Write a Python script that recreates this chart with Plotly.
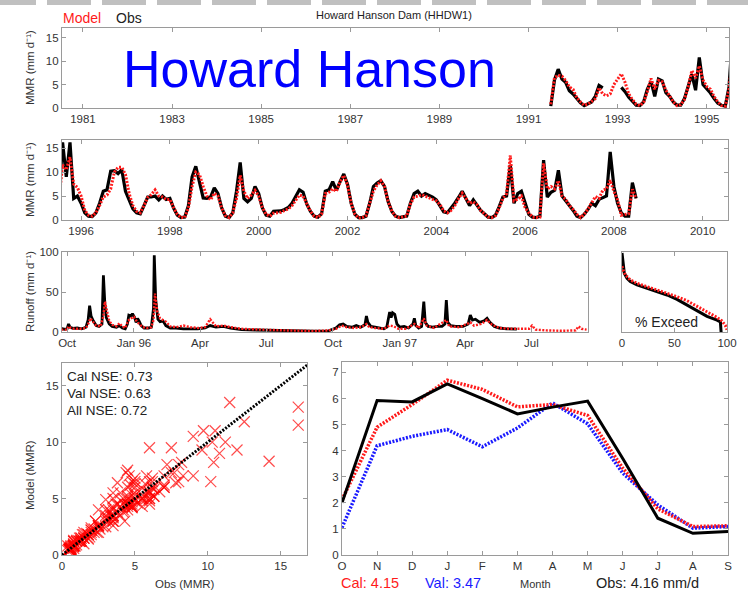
import numpy as np
import pandas as pd
import plotly.graph_objects as go

# ---------------- DATA ----------------
series_start_year = 1991.5
obs_mmr = [0.4, 6.0, 8.3, 6.2, 5.5, 3.7, 3.0, 2.0, 1.1, 0.5, 0.9, 1.3, 2.5, 4.8, 4.3, None, None, None, None, 4.4,
           3.5, 2.3, 1.4, 0.6, 0.5, 1.3, 4.0, 5.7, 2.5, 6.2, 5.8, 3.3, 2.5, 1.3, 0.6, 0.6, 2.0, 4.5, 7.2, 3.8,
           10.8, 5.0, 4.2, 3.2, 2.0, 1.0, 0.6, 0.4, 4.5,
           16.2, 9.0, 16.2, 4.5, 5.0, 3.5, 1.5, 0.8, 0.7, 1.5, 3.5, 6.0, 6.3, 10.2, 10.3, 9.7, 10.5, 6.0, 4.0, 2.3,
           1.5, 1.3, 3.0, 4.8, 4.8, 5.0, 4.2, 5.0, 4.3, 4.5, 2.5, 1.0, 0.5, 0.6, 3.0, 9.0, 11.2, 7.5, 4.6, 4.5,
           4.8, 6.7, 5.5, 2.5, 0.8, 0.5, 1.5, 6.0, 12.0, 4.5, 3.8, 4.5, 7.0, 5.5, 2.5, 1.0, 0.8, 1.8, 1.8, 1.9,
           2.2, 2.6, 3.5, 4.8, 6.3, 5.8, 3.3, 1.8, 0.8, 0.6, 1.3, 6.0, 6.3, 8.0, 6.2, 8.0, 9.6, 7.5, 3.5, 1.2,
           0.5, 0.5, 0.8, 3.5, 7.0, 7.7, 8.2, 7.0, 3.8, 1.8, 0.8, 0.5, 0.6, 0.8, 3.5, 5.5, 6.0, 5.0, 5.5, 5.2,
           4.8, 4.2, 3.0, 1.7, 1.5, 2.4, 3.5, 4.7, 6.0, 4.5, 3.0, 4.2, 3.2, 2.0, 1.3, 0.6, 0.5, 1.0, 2.8, 4.8,
           5.0,
           11.5, 3.5, 5.5, 6.0, 3.5, 1.2, 0.6, 0.5, 0.8, 12.5, 4.8, 5.8, 6.2, 10.4, 5.0, 4.0, 3.2, 2.0, 0.8, 0.5,
           1.2, 2.2, 3.5, 3.0, 4.3, 4.7, 5.0, 14.2, 7.0, 3.5, 1.5, 0.8, 0.8, 7.8, 4.5]
model_mmr = [0.8, 6.5, 7.0, 6.8, 5.9, 4.5, 4.0, 2.2, 1.3, 0.6, 0.8, 1.5, 2.0, 4.3, 3.0, 2.6, 3.0, 5.0, 6.3, 7.3,
             5.5, 3.0, 1.8, 0.8, 0.5, 1.2, 3.5, 6.3, 4.0, 5.9, 5.6, 3.8, 2.6, 1.3, 0.5, 0.7, 1.8, 4.5, 8.0, 6.4,
             9.0, 6.0, 4.6, 4.0, 2.4, 1.3, 0.5, 0.4, 4.0,
             11.5, 10.5, 13.1, 7.5, 6.8, 5.0, 2.0, 1.0, 0.8, 1.5, 3.0, 4.8, 5.2, 6.5, 10.0, 11.0, 11.0, 9.5, 5.5, 3.0,
             1.8, 1.5, 3.0, 4.7, 5.3, 6.3, 5.0, 4.8, 4.3, 4.3, 2.6, 1.2, 0.5, 0.5, 2.5, 7.0, 10.0, 9.5, 7.0, 5.0,
             4.2, 5.6, 5.0, 2.5, 0.9, 0.5, 1.5, 4.5, 9.3, 6.0, 4.5, 5.2, 6.2, 5.0, 2.6, 1.2, 0.8, 1.4, 1.5, 1.6,
             2.0, 2.3, 3.0, 4.2, 5.2, 5.0, 3.5, 1.8, 0.8, 0.5, 1.2, 5.5, 5.8, 6.5, 6.0, 8.0, 9.3, 7.3, 3.5, 1.2,
             0.4, 0.5, 0.9, 3.4, 6.0, 7.3, 8.2, 7.0, 3.8, 1.8, 0.8, 0.5, 0.6, 0.8, 3.3, 4.8, 5.0, 5.3, 5.0, 4.6,
             4.3, 4.0, 3.2, 1.9, 1.5, 2.0, 3.0, 4.5, 5.6, 4.5, 3.5, 3.8, 3.2, 2.0, 1.3, 0.6, 0.5, 0.9, 2.5, 4.5,
             5.5,
             13.5, 4.0, 4.3, 5.0, 2.6, 1.5, 0.6, 0.5, 0.6, 11.8, 6.5, 7.0, 6.5, 8.2, 5.0, 4.3, 3.0, 2.2, 1.2, 0.5,
             1.2, 2.3, 3.5, 4.9, 4.5, 6.2, 6.5, 8.3, 6.0, 4.2, 1.0, 1.2, 1.3, 6.4, 4.5]

daily_origin = "1995-10-01"
obs_day = [-8, -4, 0, 2, 4, 8, 14, 20, 26, 29, 31, 33, 36, 40, 44, 48, 50, 52, 54, 58, 62, 68, 72, 76, 80, 83, 85,
           88, 90, 93, 95, 97, 99, 102, 106, 112, 116, 119, 120, 122, 125, 128, 132, 136, 142, 150, 160, 170, 180,
           190, 197, 205, 215, 225, 240, 260, 280, 300, 320, 340, 360, 370, 375, 380, 385, 392, 398, 404, 410, 412,
           414, 418, 424, 430, 436, 440, 444, 446, 448, 451, 454, 458, 464, 470, 476, 478, 480, 484, 488, 491, 493,
           497, 503, 510, 516, 520, 522, 524, 528, 535, 545, 552, 555, 558, 562, 568, 574, 578, 582, 588, 595, 605,
           612, 619]
obs_daily = [4.5, 3.5, 4, 10, 6, 4.5, 5, 4, 6, 15, 33, 20, 14, 8, 7, 10, 71, 35, 18, 10, 7, 6, 8, 5, 4, 10, 21,
             20, 23, 18, 12, 17, 14, 8, 5, 5, 6, 30, 96, 40, 16, 13, 14, 8, 5, 5, 4, 4, 4,
             5, 8, 6, 7, 5, 3, 2.5, 2, 1.5, 1.2, 1.0, 1.5, 5, 9, 10, 7, 6, 8, 6, 9, 20,
             12, 7, 6, 5, 4, 6, 25, 18, 24, 22, 10, 6, 7, 5, 10, 17, 8, 5, 7, 38, 12,
             7, 6, 7, 7, 10, 40, 12, 8, 7, 7, 10, 21, 15, 16, 12, 14, 17, 12, 7, 5, 4,
             4, 3.5]
model_day = [-8, 0, 2, 5, 10, 20, 26, 29, 32, 35, 40, 46, 50, 52, 55, 58, 62, 68, 72, 76, 80, 84, 88, 92, 96, 100,
             104, 110, 116, 119, 121, 124, 128, 132, 136, 142, 150, 160, 170, 180, 190, 197, 200, 205, 215, 225, 240,
             260, 280, 300, 320, 340, 360, 370, 378, 385, 395, 405, 412, 416, 424, 436, 444, 450, 456, 466, 478, 484,
             491, 495, 505, 522, 526, 540, 555, 560, 570, 578, 585, 595, 610, 625, 636, 640, 645, 660, 680, 700, 704,
             708, 715]
model_daily = [3, 3, 7, 5, 4, 4, 5, 10, 17, 14, 8, 7, 20, 38, 25, 14, 9, 7, 11, 7, 5, 14, 17, 19, 13, 10,
               6, 5, 6, 15, 48, 26, 17, 15, 13, 7, 6, 8, 6, 5, 6, 16, 12, 7, 8, 6, 4,
               3, 2.5, 2, 1.5, 1.3, 2, 4, 8, 6, 5, 6, 10, 6, 5, 4, 8, 7, 4, 4, 10, 5,
               17, 8, 5, 15, 7, 6, 12, 8, 10, 15, 9, 5, 4, 3.5, 4, 8, 3, 2, 1.5, 2, 7,
               4, 3]

exc_pct_obs = [0, 1.0, 2.2, 4.8, 7.9, 14.3, 23.8, 33.3, 42.9, 52.4, 61.9, 71.4, 81.0, 90.5, 93.7, 94.8, 100]
exc_obs = [93, 35, 21.8, 15.1, 11.9, 9.35, 7.35, 5.76, 4.53, 3.31, 2.19, 1.45, 0.98, 0.74, 0.65, 0.2, 0.2]
exc_pct_mod = [0, 1.0, 3.2, 7.9, 14.3, 23.8, 33.3, 42.9, 52.4, 61.9, 71.4, 81.0, 90.5, 95.2, 98.4, 100]
exc_mod = [36, 27.7, 19.3, 13.4, 10.5, 8.3, 6.5, 5.1, 4.0, 3.0, 2.04, 1.35, 0.9, 0.70, 0.51, 0.37]

month_labels = ["O", "N", "D", "J", "F", "M", "A", "M", "J", "J", "A", "S"]
clim_obs = [2.0, 5.92, 5.87, 6.56, 6.0, 5.41, 5.67, 5.9, 3.7, 1.41, 0.83, 0.9]
clim_cal = [2.12, 4.9, 5.77, 6.7, 6.35, 5.68, 5.77, 5.35, 3.33, 1.77, 1.09, 1.12]
clim_val = [1.05, 4.19, 4.55, 4.81, 4.15, 4.87, 5.83, 5.03, 3.14, 1.92, 1.03, 1.09]

one_to_one = [0, 17]
nse_text = ["Cal NSE: 0.73", "Val NSE: 0.63", "All NSE: 0.72"]
mean_text = {"cal": "Cal: 4.15", "val": "Val: 3.47", "obs": "Obs: 4.16 mm/d"}

# ---------------- FIGURE ----------------
W, H = 748, 597
FONT = "Liberation Sans, Arial, sans-serif"
RED, BLUE = "#ff1a1a", "#1a1aff"
DOTS = "2px,1.5px"


def xd(a, b):
    return [a / W, b / W]


def yd(top, bottom):
    return [1 - bottom / H, 1 - top / H]


t_month = series_start_year + np.arange(len(obs_mmr)) / 12.0
obs_arr = np.array([np.nan if v is None else v for v in obs_mmr], dtype=float)
mod_arr = np.array(model_mmr, dtype=float)
origin = pd.Timestamp(daily_origin)
obs_dates = origin + pd.to_timedelta(obs_day, unit="D")
mod_dates = origin + pd.to_timedelta(model_day, unit="D")

fig = go.Figure()
obs_line = dict(color="black", width=3.2)
mod_line = dict(color=RED, width=3, dash=DOTS)

for ax in ["", "2"]:
    fig.add_trace(go.Scatter(x=t_month, y=obs_arr, mode="lines", line=obs_line,
                             xaxis="x" + ax, yaxis="y" + ax, connectgaps=False))
    fig.add_trace(go.Scatter(x=t_month, y=mod_arr, mode="lines", line=mod_line,
                             xaxis="x" + ax, yaxis="y" + ax))

fig.add_trace(go.Scatter(x=obs_dates, y=obs_daily, mode="lines", line=dict(color="black", width=2.8),
                         xaxis="x3", yaxis="y3"))
fig.add_trace(go.Scatter(x=mod_dates, y=model_daily, mode="lines", line=dict(color=RED, width=2.4, dash=DOTS),
                         xaxis="x3", yaxis="y3"))

fig.add_trace(go.Scatter(x=exc_pct_obs, y=exc_obs, mode="lines", line=dict(color="black", width=3),
                         xaxis="x4", yaxis="y4"))
fig.add_trace(go.Scatter(x=exc_pct_mod, y=exc_mod, mode="lines", line=dict(color=RED, width=3, dash=DOTS),
                         xaxis="x4", yaxis="y4"))

mask = ~np.isnan(obs_arr)
fig.add_trace(go.Scatter(x=obs_arr[mask], y=mod_arr[mask], mode="markers",
                         marker=dict(symbol="x-thin-open", size=11, color="red", opacity=0.7,
                                     line=dict(width=1.2, color="red")),
                         xaxis="x5", yaxis="y5"))
fig.add_trace(go.Scatter(x=one_to_one, y=one_to_one, mode="lines", line=dict(color="black", width=3, dash=DOTS),
                         xaxis="x5", yaxis="y5"))

mx = np.arange(len(month_labels))
fig.add_trace(go.Scatter(x=mx, y=clim_val, mode="lines", line=dict(color=BLUE, width=3.5, dash=DOTS),
                         xaxis="x6", yaxis="y6"))
fig.add_trace(go.Scatter(x=mx, y=clim_cal, mode="lines", line=dict(color=RED, width=3.5, dash=DOTS),
                         xaxis="x6", yaxis="y6"))
fig.add_trace(go.Scatter(x=mx, y=clim_obs, mode="lines", line=dict(color="black", width=3),
                         xaxis="x6", yaxis="y6"))

tickfont = dict(family=FONT, size=11.5, color="#333")
base = dict(showline=True, linecolor="#9a9a9a", linewidth=1.2, mirror="ticks", ticks="inside",
            ticklen=4, tickcolor="#9a9a9a", showgrid=False, zeroline=False, tickfont=tickfont,
            automargin=False)

yrs1 = list(range(1981, 1996, 2))
yrs2 = list(range(1996, 2011, 2))
fig.update_layout(
    xaxis=dict(base, domain=xd(62, 729), range=[1980.53, 1995.5], tickvals=yrs1, anchor="y"),
    yaxis=dict(base, domain=yd(28, 108), range=[0, 17.1], tickvals=[0, 5, 10, 15], anchor="x"),
    xaxis2=dict(base, domain=xd(62, 728), range=[1995.57, 2010.57], tickvals=yrs2, anchor="y2"),
    yaxis2=dict(base, domain=yd(140, 220), range=[0, 16.7], tickvals=[0, 5, 10, 15], anchor="x2"),
    xaxis3=dict(base, domain=xd(62, 588), type="date", range=["1995-09-24", "1997-09-17"],
                tickvals=["1995-10-01", "1996-01-01", "1996-04-01", "1996-07-01", "1996-10-01",
                          "1997-01-01", "1997-04-01", "1997-07-01"],
                ticktext=["Oct", "Jan 96", "Apr", "Jul", "Oct", "Jan 97", "Apr", "Jul"], anchor="y3"),
    yaxis3=dict(base, domain=yd(252, 332), range=[0, 100], tickvals=[0, 50, 100], anchor="x3"),
    xaxis4=dict(base, domain=xd(622, 727), range=[0, 100], tickvals=[0, 50, 100], anchor="y4"),
    yaxis4=dict(base, domain=yd(252, 332), type="log", range=[-0.5, 2], ticks="", showticklabels=False,
                anchor="x4"),
    xaxis5=dict(base, domain=xd(62, 307), range=[0, 16.8], tickvals=[0, 5, 10, 15], anchor="y5"),
    yaxis5=dict(base, domain=yd(363, 555), range=[0, 17], tickvals=[0, 5, 10, 15], anchor="x5"),
    xaxis6=dict(base, domain=xd(342, 728), range=[0, 11], tickvals=list(mx), ticktext=month_labels,
                anchor="y6"),
    yaxis6=dict(base, domain=yd(362, 555), range=[0, 7.4], tickvals=list(range(8)), anchor="x6"),
    width=W, height=H, autosize=False, margin=dict(l=0, r=0, t=0, b=0, pad=0, autoexpand=False),
    paper_bgcolor="white", plot_bgcolor="white", showlegend=False,
    font=dict(family=FONT, color="#333"),
)

ann = []


def text(x, y, s, size, color="#333", xanchor="center", yanchor="middle", angle=0):
    ann.append(dict(x=x / W, y=1 - y / H, xref="paper", yref="paper", text=s, showarrow=False,
                    font=dict(family=FONT, size=size, color=color), xanchor=xanchor, yanchor=yanchor,
                    textangle=angle))


text(61, 18, "Model", 14, RED, xanchor="left")
text(114, 18, "Obs", 14, "#222", xanchor="left")
text(394, 15, "Howard Hanson Dam (HHDW1)", 11, "#222")
text(309, 69, "Howard Hanson", 52, "#0000ff")
text(30, 68, "MMR (mm d⁻¹)", 11.5, "#333", angle=-90)
text(30, 180, "MMR (mm d⁻¹)", 11.5, "#333", angle=-90)
text(30, 292, "Runoff (mm d⁻¹)", 11.5, "#333", angle=-90)
text(666, 322, "% Exceed", 14, "#222")
for i, s in enumerate(nse_text):
    text(65, 376 + 17 * i, s, 13.5, "#222", xanchor="left")
text(185, 584, "Obs (MMR)", 11.5)
text(30, 475, "Model (MMR)", 11.5, angle=-90)
text(370, 583, mean_text["cal"], 14.5, RED)
text(453, 583, mean_text["val"], 14.5, BLUE)
text(535, 584, "Month", 11, "#333")
text(647, 583, mean_text["obs"], 14.5, "#222")
fig.update_layout(annotations=ann)

shapes = []
for x0 in range(-8, W, 55):
    shapes.append(dict(type="rect", xref="paper", yref="paper", x0=max(x0, 0) / W, x1=(x0 + 44) / W,
                       y0=1 - 5 / H, y1=1, fillcolor="#8c8c8c", opacity=0.55, line=dict(width=0),
                       layer="below"))
fig.update_layout(shapes=shapes)

fig.write_html("out.html", config={"responsive": False, "displayModeBar": False})
